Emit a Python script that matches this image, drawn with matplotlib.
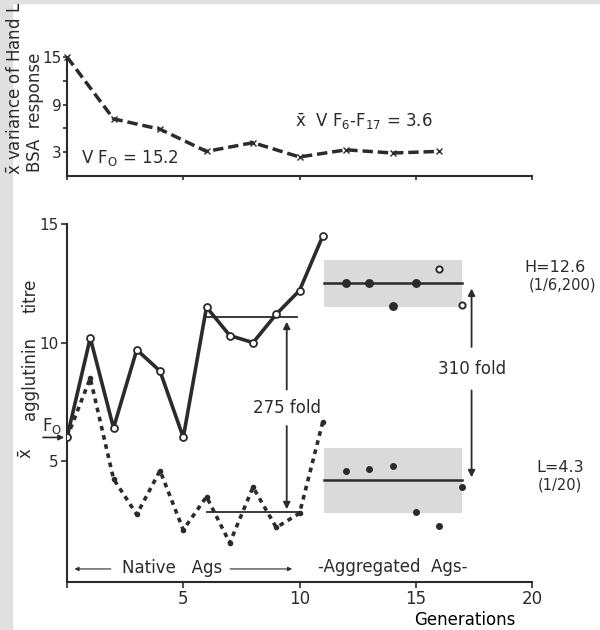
import matplotlib.pyplot as plt
from matplotlib.patches import Rectangle

# top panel: mean variance of H and L BSA response
var_gen = [0, 2, 4, 6, 8, 10, 12, 14, 16]
var_val = [15, 7.2, 5.9, 3.1, 4.2, 2.4, 3.3, 2.9, 3.1]

# bottom panel: agglutinin titre, native antigen generations
nat_gen = [0, 1, 2, 3, 4, 5, 6, 7, 8, 9, 10, 11]
high_nat = [6.0, 10.2, 6.4, 9.7, 8.8, 6.0, 11.5, 10.3, 10.0, 11.2, 12.2, 14.5]
low_nat = [6.0, 8.5, 4.25, 2.75, 4.6, 2.1, 3.5, 1.55, 3.9, 2.2, 2.8, 6.65]

# aggregated antigen generations
agg_gen = [12, 13, 14, 15, 16, 17]
high_agg = [12.5, 12.5, 11.55, 12.5, 13.1, 11.6]
low_agg = [4.6, 4.65, 4.8, 2.85, 2.25, 3.9]
high_filled = [True, True, True, True, False, False]

high_mean, low_mean = 12.6, 4.3
high_band = (11.5, 13.5)
low_band = (2.8, 5.55)
nat_high_mean, nat_low_mean = 11.1, 2.85

ink = '#2b2b2b'
plt.rcParams['font.family'] = ['DejaVu Sans']
plt.rcParams['text.color'] = ink
plt.rcParams['axes.edgecolor'] = ink
plt.rcParams['xtick.color'] = ink
plt.rcParams['ytick.color'] = ink

fig = plt.figure(figsize=(6, 6.3), dpi=100)
fig.patches.append(Rectangle((0, 0), 0.02, 1, transform=fig.transFigure,
                             color='#e0e0e0', zorder=-10))
fig.patches.append(Rectangle((0, 0.995), 1, 0.005, transform=fig.transFigure,
                             color='#e0e0e0', zorder=-10))

# ---------------- top panel ----------------
ax1 = fig.add_axes([0.1117, 0.7206, 0.775, 0.189])
ax1.plot(var_gen, var_val, color=ink, lw=2.5, ls=(0, (3, 1.4)),
         marker='x', ms=4, mew=1, clip_on=False)
ax1.set_xlim(0, 20)
ax1.set_ylim(0, 15)
ax1.set_xticks([0, 5, 10, 15, 20])
ax1.set_xticklabels([])
ax1.set_yticks([3, 6, 9, 12, 15])
ax1.set_yticklabels(['3', '', '9', '', '15'])
for s in ['top', 'right']:
    ax1.spines[s].set_visible(False)
ax1.spines['left'].set_bounds(0, 15)
ax1.tick_params(direction='out', length=3, width=1.2, labelsize=11, pad=1)
ax1.spines['left'].set_linewidth(1.5)
ax1.spines['bottom'].set_linewidth(1.5)
ax1.text(0.6, 2.3, r'V F$_{\mathrm{O}}$ = 15.2', fontsize=12, va='center')
ax1.text(9.8, 6.8, r'$\bar{\mathrm{x}}$  V F$_6$-F$_{17}$ = 3.6', fontsize=12, va='center')
fig.text(0.025, 0.86, r'$\bar{\mathrm{x}}$ variance of Hand L', rotation=90,
         fontsize=12, ha='center', va='center')
fig.text(0.058, 0.822, 'BSA  response', rotation=90,
         fontsize=12, ha='center', va='center')

# ---------------- bottom panel ----------------
ax2 = fig.add_axes([0.1117, 0.0762, 0.775, 0.568])
ax2.set_xlim(0, 20)
ax2.set_ylim(-0.1, 15)

x0, x1 = 11.07, 17.0
ax2.add_patch(Rectangle((x0, high_band[0]), x1 - x0, high_band[1] - high_band[0],
                        facecolor='#dadada', edgecolor='none', zorder=1))
ax2.add_patch(Rectangle((x0, low_band[0]), x1 - x0, low_band[1] - low_band[0],
                        facecolor='#dadada', edgecolor='none', zorder=1))
ax2.plot([x0, x1], [high_mean - 0.1, high_mean - 0.1], color=ink, lw=1.8, zorder=2)
ax2.plot([x0, x1], [low_mean - 0.1, low_mean - 0.1], color=ink, lw=1.8, zorder=2)

ax2.plot(nat_gen, low_nat, color=ink, lw=2.6, ls=(0, (1.3, 1.3)),
         marker='o', ms=3, zorder=3)
ax2.plot(nat_gen, high_nat, color=ink, lw=2.6, marker='o', ms=5,
         mfc='white', mec=ink, mew=1.3, zorder=4)

for g, v, f in zip(agg_gen, high_agg, high_filled):
    ax2.plot(g, v, 'o', ms=5 if f else 4.5, mfc=ink if f else 'white',
             mec=ink, mew=1.4, zorder=5)
ax2.plot(agg_gen, low_agg, 'o', ms=4, color=ink, ls='none', zorder=5)

# native mean lines
ax2.plot([6, 9.9], [nat_high_mean, nat_high_mean], color=ink, lw=1.3, zorder=2)
ax2.plot([6, 10], [nat_low_mean, nat_low_mean], color=ink, lw=1.3, zorder=2)

# fold arrows
arw = dict(arrowstyle='-|>', color=ink, lw=1.3, mutation_scale=10)
ax2.annotate('', xy=(9.45, nat_high_mean - 0.1), xytext=(9.45, 7.9), arrowprops=arw)
ax2.annotate('', xy=(9.45, nat_low_mean), xytext=(9.45, 6.6), arrowprops=arw)
ax2.text(9.45, 7.25, '275 fold', fontsize=12, ha='center', va='center')
ax2.annotate('', xy=(17.4, high_mean - 0.2), xytext=(17.4, 9.7), arrowprops=arw)
ax2.annotate('', xy=(17.4, low_mean - 0.1), xytext=(17.4, 8.1), arrowprops=arw)
ax2.text(17.4, 8.9, '310 fold', fontsize=12, ha='center', va='center')

ax2.text(21.0, 13.15, 'H=12.6', fontsize=11.5, ha='center', va='center', clip_on=False)
ax2.text(21.3, 12.42, '(1/6,200)', fontsize=10.5, ha='center', va='center', clip_on=False)
ax2.text(21.2, 4.72, 'L=4.3', fontsize=11.5, ha='center', va='center', clip_on=False)
ax2.text(21.2, 3.98, '(1/20)', fontsize=10.5, ha='center', va='center', clip_on=False)

# F0 marker
ax2.annotate('', xy=(0, 6.0), xytext=(-1.15, 6.0), annotation_clip=False,
             arrowprops=dict(arrowstyle='-|>', color=ink, lw=1.2, mutation_scale=8))
ax2.text(-0.65, 6.5, r'F$_{\mathrm{O}}$', fontsize=12, ha='center', va='center')

# generation groups
ax2.text(4.5, 0.5, 'Native   Ags', fontsize=12, ha='center', va='center')
ax2.annotate('', xy=(0.2, 0.45), xytext=(2.0, 0.45),
             arrowprops=dict(arrowstyle='-|>', color=ink, lw=0.8, mutation_scale=6))
ax2.annotate('', xy=(9.8, 0.45), xytext=(6.9, 0.45),
             arrowprops=dict(arrowstyle='-|>', color=ink, lw=0.8, mutation_scale=6))
ax2.text(14.0, 0.55, '-Aggregated  Ags-', fontsize=12, ha='center', va='center')

ax2.set_xticks([0, 5, 10, 15, 20])
ax2.set_xticklabels(['', '5', '10', '15', '20'])
ax2.set_yticks([5, 10, 15])
for s in ['top', 'right']:
    ax2.spines[s].set_visible(False)
ax2.spines['left'].set_bounds(-0.1, 15)
ax2.spines['left'].set_linewidth(1.5)
ax2.spines['bottom'].set_linewidth(1.5)
ax2.tick_params(direction='out', length=4, width=1.2, labelsize=12, pad=2)
ax2.tick_params(axis='y', labelsize=11)
ax2.set_xlabel('Generations', fontsize=12, labelpad=1)
ax2.xaxis.set_label_coords(0.856, -0.082)

fig.text(0.045, 0.281, r'$\bar{\mathrm{x}}$', rotation=90, fontsize=12,
         ha='center', va='center')
fig.text(0.05, 0.4, 'agglutinin', rotation=90, fontsize=12,
         ha='center', va='center')
fig.text(0.05, 0.53, 'titre', rotation=90, fontsize=12, ha='center', va='center')

fig.savefig('out.png', dpi=100, facecolor='white')
